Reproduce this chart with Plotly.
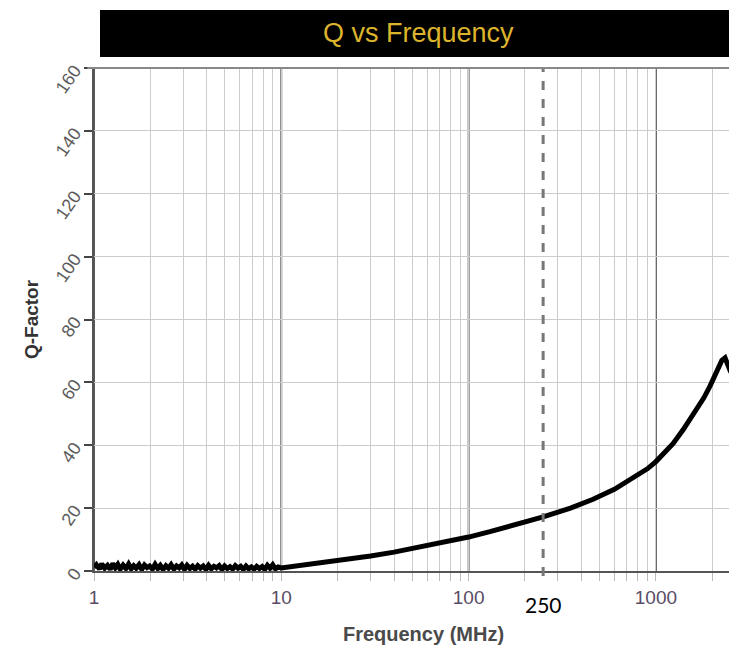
import math
import plotly.graph_objects as go

# Noisy low-frequency section (MHz, Q)
f_low = [1.00,1.03,1.07,1.10,1.14,1.18,1.22,1.26,1.30,1.34,
         1.38,1.43,1.48,1.53,1.58,1.63,1.68,1.74,1.80,1.86,
         1.92,1.98,2.05,2.12,2.19,2.26,2.34,2.42,2.50,2.58,
         2.67,2.76,2.85,2.94,3.04,3.14,3.25,3.36,3.47,3.58,
         3.70,3.83,3.96,4.09,4.23,4.37,4.51,4.66,4.82,4.98,
         5.15,5.32,5.50,5.68,5.87,6.07,6.27,6.48,6.70,6.92,
         7.15,7.39,7.64,7.90,8.16,8.43,8.71,9.00,9.30,9.62,
         10.0]
q_low = [1.2,2.0,0.6,2.3,0.9,1.8,0.5,2.4,1.0,2.1,
         0.6,1.9,0.8,2.2,0.7,1.7,0.9,2.0,0.5,1.9,
         1.1,1.6,0.6,2.1,0.8,1.8,0.5,1.7,0.9,2.0,
         0.6,1.6,1.0,1.9,0.5,1.8,0.8,1.5,0.6,1.7,
         0.9,1.6,0.5,1.8,0.7,1.5,1.0,1.7,0.5,1.6,
         0.8,1.4,0.6,1.7,0.9,1.5,0.5,1.6,0.7,1.3,
         0.6,1.5,0.8,1.4,0.5,1.8,0.9,2.0,0.7,1.3,
         1.0]

# Smooth rising section
f_high = [12, 15, 20, 30, 40, 52, 70, 100, 130, 180, 250, 350, 462, 600, 755,
          900, 1000, 1234, 1400, 1578, 1800, 1945, 2100, 2250, 2340, 2420, 2500, 2600, 2700, 2800]
q_high = [1.6, 2.3, 3.2, 4.8, 6.0, 7.3, 8.9, 10.8, 12.5, 14.8, 17.2, 20.0, 22.8, 26.0, 29.5,
          32.5, 34.8, 40.5, 45.0, 49.5, 55.0, 58.8, 63.5, 67.0, 67.8, 65.5, 63.5, 62.5, 62.3, 62.3]

decades = [1, 10, 100, 1000]
marker_freq = 250
marker_label = "250"
y_ticks = [0, 20, 40, 60, 80, 100, 120, 140, 160]
title_text = "Q vs Frequency"
x_title = "Frequency (MHz)"
y_title = "Q-Factor"

# minor/major grid positions
grid_vals = []
grid_text = []
for d in decades:
    for m in range(1, 10):
        v = d * m
        if v <= 3000:
            grid_vals.append(v)
            grid_text.append(str(v) if m == 1 else "")

fig = go.Figure()
fig.add_trace(go.Scatter(x=f_low + f_high, y=q_low + q_high, mode="lines",
                         line=dict(color="black", width=5), showlegend=False))

# decade dark gridlines
for d in decades:
    fig.add_shape(type="line", xref="x", yref="paper", x0=d, x1=d, y0=0, y1=1,
                  line=dict(color="#454545", width=1.8), layer="below")

# dashed 250 MHz marker
fig.add_shape(type="line", xref="x", yref="paper", x0=marker_freq, x1=marker_freq,
              y0=-0.01, y1=1, line=dict(color="#777777", width=3, dash="dash"))
fig.add_annotation(x=math.log10(marker_freq), xref="x", y=0, yref="paper", yshift=-33,
                   yanchor="middle", xanchor="center",
                   text=marker_label, showarrow=False,
                   font=dict(family="Lato, Carlito, sans-serif", size=21, color="black"))

W = 745
plot_w = W - 86
# title bar (page x 100 .. right edge)
fig.add_shape(type="rect", xref="paper", yref="paper", x0=6 / plot_w, x1=1.0,
              y0=1.0219, y1=1.1153, fillcolor="black", line=dict(width=0))
fig.add_annotation(x=(418 - 94) / plot_w, xref="paper", y=1.0686, yref="paper", text=title_text,
                   showarrow=False, xanchor="center", yanchor="middle",
                   font=dict(family="Liberation Sans, Arial", size=27, color="#dcb42c"))

fig.update_layout(
    width=W, height=641,
    margin=dict(l=86, r=0, t=60, b=78),
    paper_bgcolor="white", plot_bgcolor="white",
    font=dict(family="Liberation Sans, Arial", color="#444"),
    xaxis=dict(type="log", range=[0, plot_w / 187.3],
               tickvals=grid_vals, ticktext=grid_text,
               showgrid=True, gridcolor="#cccccc", gridwidth=1.2,
               ticks="outside", ticklen=8, tickcolor="#bbbbbb", tickwidth=1.2,
               showline=True, linecolor="#555555", linewidth=1.5, mirror=False,
               tickfont=dict(size=19, color="#5a4c66"),
               title=dict(text="<b>" + x_title + "</b>", font=dict(size=20, color="#4a4a4a"), standoff=20),
               zeroline=False),
    yaxis=dict(range=[0, 160], tickvals=y_ticks,
               showgrid=True, gridcolor="#cccccc", gridwidth=1.2,
               ticks="outside", ticklen=8, tickcolor="#444444", tickwidth=1.5,
               showline=True, linecolor="#555555", linewidth=1.5,
               tickangle=-55, ticklabelstandoff=6,
               tickfont=dict(size=18, color="#5a5a5a"),
               title=dict(text="<b>" + y_title + "</b>", font=dict(size=19, color="#333333"), standoff=8),
               zeroline=False),
)
# top border line
fig.add_shape(type="line", xref="paper", yref="paper", x0=-0.01, x1=1, y0=1, y1=1,
              line=dict(color="#888888", width=2))

fig.write_html("out.html")
